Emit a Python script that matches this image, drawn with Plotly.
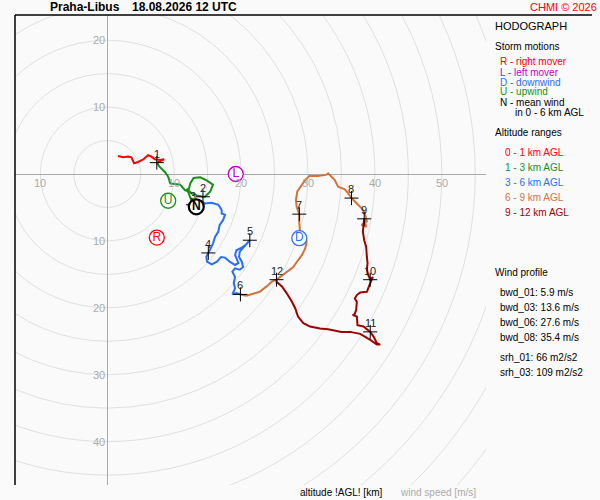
import plotly.graph_objects as go

# ---------------- data (m/s, u east / v north) ----------------
u_0_1 = [1.6, 2.4, 3.1, 3.6, 4.0, 4.6, 5.4, 6.1, 6.6, 7.1, 7.9, 8.5, 7.4]
v_0_1 = [2.7, 2.5, 2.6, 2.5, 1.6, 1.8, 2.2, 2.8, 2.6, 2.2, 2.1, 2.2, 1.7]

u_1_3 = [7.4, 7.8, 8.6, 9.1, 9.4, 10.1, 10.9, 11.6, 12.1, 12.4, 12.9, 13.9, 14.9, 15.8, 15.4, 14.6, 14.3, 13.4, 12.6, 11.9, 12.4, 12.8]
v_1_3 = [1.7, 1.1, 0.3, -0.4, -1.4, -1.5, -1.6, -2.4, -2.6, -1.4, -0.6, -0.5, -1.0, -1.6, -2.6, -3.4, -3.4, -3.2, -2.9, -2.2, -3.4, -4.6]

u_3_6 = [12.8, 14.1, 14.6, 15.6, 16.6, 17.1, 17.1, 17.6, 17.3, 16.8, 16.6, 16.1, 15.8, 15.4, 15.1,
         14.8, 14.9, 15.6, 16.4, 17.0, 17.6, 18.3, 19.1, 19.6, 19.1, 19.3, 20.1, 20.8, 21.3,
         20.3, 19.8, 19.7, 20.1, 20.3, 19.8, 19.1, 18.7, 19.1, 18.9, 19.1, 18.7, 19.3, 19.9]
v_3_6 = [-4.6, -4.1, -4.4, -4.3, -4.6, -5.4, -5.9, -6.1, -6.9, -7.6, -8.6, -9.4, -10.4, -11.1, -11.8,
         -12.4, -13.1, -13.5, -13.1, -12.4, -12.5, -13.1, -13.6, -13.3, -12.1, -11.4, -11.0, -10.5, -9.9,
         -11.1, -11.6, -12.4, -13.1, -13.9, -14.3, -14.1, -14.6, -15.4, -16.3, -17.1, -18.0, -17.8, -18.0]

u_6_9 = [19.9, 20.8, 21.8, 22.8, 23.8, 24.6, 25.4, 26.6, 27.8, 28.5, 29.1, 29.6, 29.8, 29.4, 28.8, 28.7, 28.7,
         28.3, 28.2, 28.4, 29.1, 29.6, 30.2, 31.5, 32.8, 33.0, 33.4, 34.0, 34.5, 35.5, 36.0, 36.5,
         37.3, 38.0, 38.5, 38.8, 38.0, 38.7, 38.4]
v_6_9 = [-18.0, -18.2, -17.9, -17.6, -16.8, -16.1, -15.7, -14.8, -13.9, -12.9, -12.1, -11.1, -10.1, -9.3, -8.6, -7.4, -6.0,
         -4.9, -3.9, -2.6, -1.6, -0.9, -0.3, -0.3, -0.1, 0.1, -0.3, -0.9, -1.9, -2.3, -2.9, -3.6,
         -4.4, -5.1, -5.9, -7.1, -7.6, -7.9, -6.7]

u_9_12 = [38.4, 38.3, 38.2, 38.4, 38.7, 38.8, 38.9, 38.8, 39.0, 39.3, 39.7, 39.3, 39.0, 38.8, 37.8, 37.3, 37.0,
          37.3, 37.2, 37.0, 36.7, 37.3, 37.4, 38.3, 39.3, 39.8, 40.3, 40.8, 40.3, 39.3, 37.8, 36.3, 35.0,
          34.0, 33.0, 31.8, 30.3, 29.3, 28.5, 28.1, 27.6, 26.8, 26.1, 25.3, 25.3]
v_9_12 = [-6.7, -7.4, -8.6, -9.9, -10.9, -12.4, -13.3, -14.3, -15.1, -15.8, -15.4, -16.3, -17.1, -17.6, -17.7, -18.1, -18.6,
          -19.1, -20.3, -20.9, -21.1, -21.3, -22.6, -22.8, -23.6, -24.3, -25.3, -25.5, -25.5, -24.8, -23.9, -23.6, -23.6,
          -23.4, -23.2, -23.1, -22.8, -22.3, -21.3, -20.1, -19.1, -17.8, -16.8, -16.1, -15.8]

km_labels = ["1", "2", "3", "4", "5", "6", "7", "8", "9", "10", "11", "12"]
km_u = [7.4, 14.3, 12.8, 15.1, 21.3, 19.9, 28.7, 36.5, 38.4, 39.3, 39.3, 25.3]
km_v = [1.7, -3.4, -4.6, -11.8, -9.9, -18.0, -6.0, -3.6, -6.7, -15.8, -23.6, -15.8]

storm_letters = ["R", "L", "D", "U", "N"]
storm_u = [7.4, 19.2, 28.7, 9.1, 13.3]
storm_v = [-9.5, 0.0, -9.6, -4.0, -4.9]

ring_radii = [5, 10, 15, 20, 25, 30, 35, 40, 45, 50, 55, 60, 65, 70, 75]
x_tick_vals = [-10, 10, 20, 30, 40, 50]
y_tick_vals = [20, 10, -10, -20, -30, -40]

station = "Praha-Libus"
valid_time = "18.08.2026 12 UTC"
storm_legend = ["R - right mover", "L - left mover", "D - downwind", "U - upwind", "N - mean wind", "in 0 - 6 km AGL"]
altitude_legend = ["0 - 1 km AGL", "1 - 3 km AGL", "3 - 6 km AGL", "6 - 9 km AGL", "9 - 12 km AGL"]
wind_profile = ["bwd_01: 5.9 m/s", "bwd_03: 13.6 m/s", "bwd_06: 27.6 m/s", "bwd_08: 35.4 m/s",
                "srh_01: 66 m2/s2", "srh_03: 109 m2/s2"]

# ---------------- style ----------------
FONT = "Liberation Sans, Arial, sans-serif"
C_RED = "#ff0000"
C_PURPLE = "#c000c0"
C_BLUE = "#2a6ff0"
C_GREEN = "#179117"
C_ORANGE = "#d2733e"
C_DRED = "#a00000"
BG = "#fafafa"

W, H = 600, 500
L_PX, R_PX, T_PX, B_PX = 15, 486, 15, 485


def pxx(x):
    return (x - L_PX) / (R_PX - L_PX)


def pxy(y):
    return (B_PX - y) / (B_PX - T_PX)


fig = go.Figure()

layers = [(u_0_1, v_0_1, C_RED), (u_1_3, v_1_3, C_GREEN), (u_3_6, v_3_6, C_BLUE),
          (u_6_9, v_6_9, C_ORANGE), (u_9_12, v_9_12, C_DRED)]
for uu, vv, col in layers:
    fig.add_trace(go.Scatter(x=uu, y=vv, mode="lines", line=dict(color=col, width=2),
                             hoverinfo="skip", showlegend=False))

fig.add_trace(go.Scatter(x=km_u, y=km_v, mode="markers", showlegend=False, hoverinfo="skip",
                         marker=dict(symbol="cross-thin", size=10, color="black",
                                     line=dict(color="black", width=1))))

storm_cols = [C_RED, C_PURPLE, C_BLUE, C_GREEN, "black"]
storm_text = ["R", "L", "D", "U", "<b>N</b>"]
fig.add_trace(go.Scatter(x=storm_u, y=storm_v, mode="markers+text", showlegend=False, hoverinfo="skip",
                         text=storm_text, textposition="middle center",
                         textfont=dict(family=FONT, size=12, color=storm_cols),
                         marker=dict(symbol="circle", size=15, color="white",
                                     line=dict(color=storm_cols, width=[1.3, 1.3, 1.3, 1.3, 2.2]))))

annotations = []
for lab, uu, vv in zip(km_labels, km_u, km_v):
    annotations.append(dict(x=uu, y=vv, xref="x", yref="y", text=lab, showarrow=False,
                            yshift=9, xanchor="center", yanchor="middle",
                            font=dict(family=FONT, size=11, color="#222222")))

for t in x_tick_vals:
    annotations.append(dict(x=t, y=0, xref="x", yref="y", text=str(abs(t)), showarrow=False,
                            xanchor="center", yanchor="top", yshift=-1,
                            font=dict(family=FONT, size=11, color="#aaaaaa")))
for t in y_tick_vals:
    annotations.append(dict(x=0, y=t, xref="x", yref="y", text=str(abs(t)), showarrow=False,
                            xanchor="right", yanchor="middle", xshift=0,
                            font=dict(family=FONT, size=11, color="#aaaaaa")))


def ptext(x, y, text, size=10, color="black", bold=False):
    annotations.append(dict(x=pxx(x), y=pxy(y), xref="paper", yref="paper",
                            text=f"<b>{text}</b>" if bold else text, showarrow=False,
                            xanchor="left", yanchor="middle", borderpad=0,
                            font=dict(family=FONT, size=size, color=color)))


ptext(49, 7, station, size=12, bold=True)
ptext(131, 7, valid_time, size=12, bold=True)
ptext(529, 7, "CHMI © 2026", size=11, color=C_RED)
ptext(494, 26, "HODOGRAPH", size=11)
ptext(494, 47, "Storm motions", size=10)
sm_cols = [C_RED, C_PURPLE, C_BLUE, C_GREEN, "black", "black"]
sm_x = [499, 499, 499, 499, 499, 514]
for i, (txt, col) in enumerate(zip(storm_legend, sm_cols)):
    ptext(sm_x[i], 62 + 10 * i, txt, size=10, color=col)
ptext(494, 132, "Altitude ranges", size=10)
for i, (txt, col) in enumerate(zip(altitude_legend, [C_RED, C_GREEN, C_BLUE, C_ORANGE, C_DRED])):
    ptext(504, 152 + 15 * i, txt, size=10, color=col)
ptext(494, 272, "Wind profile", size=10)
wp_y = [292, 307, 322, 337, 357, 372]
for txt, yy in zip(wind_profile, wp_y):
    ptext(499, yy, txt, size=10)
ptext(299, 492, "altitude !AGL! [km]", size=10)
ptext(399, 492, "wind speed [m/s]", size=10, color="#aaaaaa")

shapes = []
for r in ring_radii:
    shapes.append(dict(type="circle", xref="x", yref="y", x0=-r, y0=-r, x1=r, y1=r,
                       line=dict(color="#e0e0e0", width=1), layer="below"))
shapes.append(dict(type="line", xref="paper", yref="paper", x0=0, x1=0, y0=0, y1=1,
                   line=dict(color="black", width=1.5)))
shapes.append(dict(type="line", xref="paper", yref="paper", x0=0, x1=pxx(592), y0=1, y1=1,
                   line=dict(color="black", width=1.5)))

x_range = [(L_PX - 107.3) / 6.69, (R_PX - 107.3) / 6.69]
y_range = [(174 - B_PX) / 6.69, (174 - T_PX) / 6.69]

fig.update_layout(
    width=W, height=H, autosize=False,
    margin=dict(l=L_PX, r=W - R_PX, t=T_PX, b=H - B_PX, pad=0),
    paper_bgcolor=BG, plot_bgcolor=BG,
    xaxis=dict(range=x_range, showgrid=False, zeroline=True, zerolinecolor="#aaaaaa", zerolinewidth=1,
               showticklabels=False, ticks="", showline=False, fixedrange=True),
    yaxis=dict(range=y_range, showgrid=False, zeroline=True, zerolinecolor="#aaaaaa", zerolinewidth=1,
               showticklabels=False, ticks="", showline=False, fixedrange=True),
    shapes=shapes, annotations=annotations, showlegend=False,
    font=dict(family=FONT),
)

fig.write_html("out.html", config={"displayModeBar": False},
               post_script="document.body.style.margin='0';document.body.style.overflow='hidden';"
                           "document.body.style.background='#fafafa';")
